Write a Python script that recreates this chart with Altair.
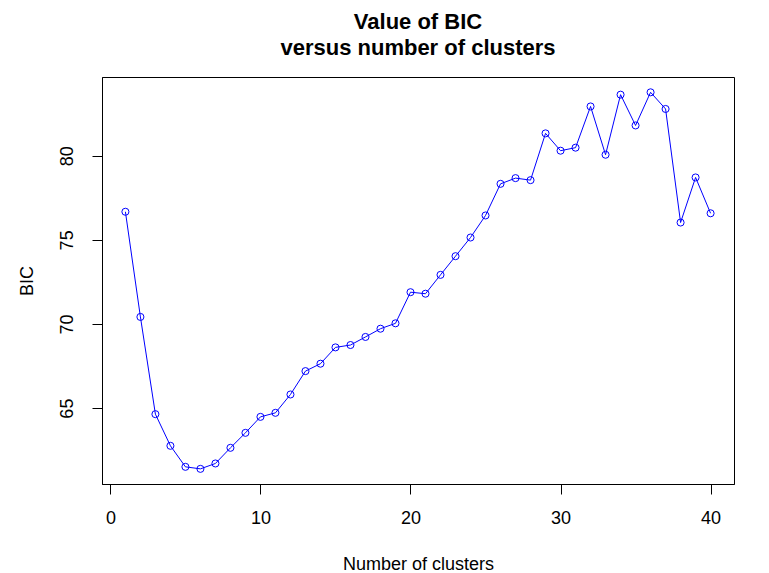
import altair as alt
import pandas as pd

clusters = list(range(1, 41))
bic = [76.67, 70.42, 64.64, 62.76, 61.51, 61.39, 61.71, 62.64, 63.53, 64.48,
       64.72, 65.81, 67.20, 67.64, 68.61, 68.75, 69.23, 69.72, 70.04, 71.89,
       71.80, 72.92, 74.03, 75.14, 76.45, 78.33, 78.67, 78.55, 81.33, 80.30,
       80.48, 82.93, 80.06, 83.63, 81.80, 83.77, 82.78, 76.03, 78.71, 76.58]
x_ticks = [0, 10, 20, 30, 40]
y_ticks = [65, 70, 75, 80]
title_lines = ["Value of BIC", "versus number of clusters"]

df = pd.DataFrame({"clusters": clusters, "BIC": bic})

FONT = "Liberation Sans"
BLUE = "#0000FF"

base = alt.Chart(df).encode(
    x=alt.X("clusters:Q",
            scale=alt.Scale(domain=[-0.56, 41.56], nice=False, zero=False),
            axis=alt.Axis(values=x_ticks, title="Number of clusters",
                          tickSize=10, labelPadding=15, labelFontSize=18,
                          titleFontSize=18, titleFontWeight="normal",
                          titleY=85, titleBaseline="alphabetic",
                          labelFlush=False)),
    y=alt.Y("BIC:Q",
            scale=alt.Scale(domain=[60.49, 84.68], nice=False, zero=False),
            axis=alt.Axis(values=y_ticks, title="BIC",
                          tickSize=10, labelPadding=16, labelFontSize=18,
                          labelAngle=270, labelAlign="center",
                          labelBaseline="bottom",
                          titleFontSize=18, titleFontWeight="normal",
                          titleX=-70, titleBaseline="alphabetic",
                          labelFlush=False)),
)

line = base.mark_line(color=BLUE, strokeWidth=1)
pts = base.mark_point(shape="circle", filled=False, color=BLUE, size=50,
                      strokeWidth=1, opacity=1)

chart = (line + pts).properties(
    width=632,
    height=407,
    title=alt.TitleParams(text=title_lines, fontSize=22, font=FONT,
                          fontWeight="bold", anchor="middle", frame="group",
                          lineHeight=26, offset=17, color="black"),
    autosize=alt.AutoSizeParams(type="none"),
    padding={"left": 94, "top": 69, "right": 27, "bottom": 89},
).configure(
    font=FONT,
).configure_view(
    stroke="black", strokeWidth=1,
).configure_axis(
    grid=False, domain=True, domainColor="black", tickColor="black",
    labelColor="black", titleColor="black", labelFont=FONT, titleFont=FONT,
    domainWidth=1, tickWidth=1,
)

chart.save("out.html", embed_options={"renderer": "svg", "actions": False})
